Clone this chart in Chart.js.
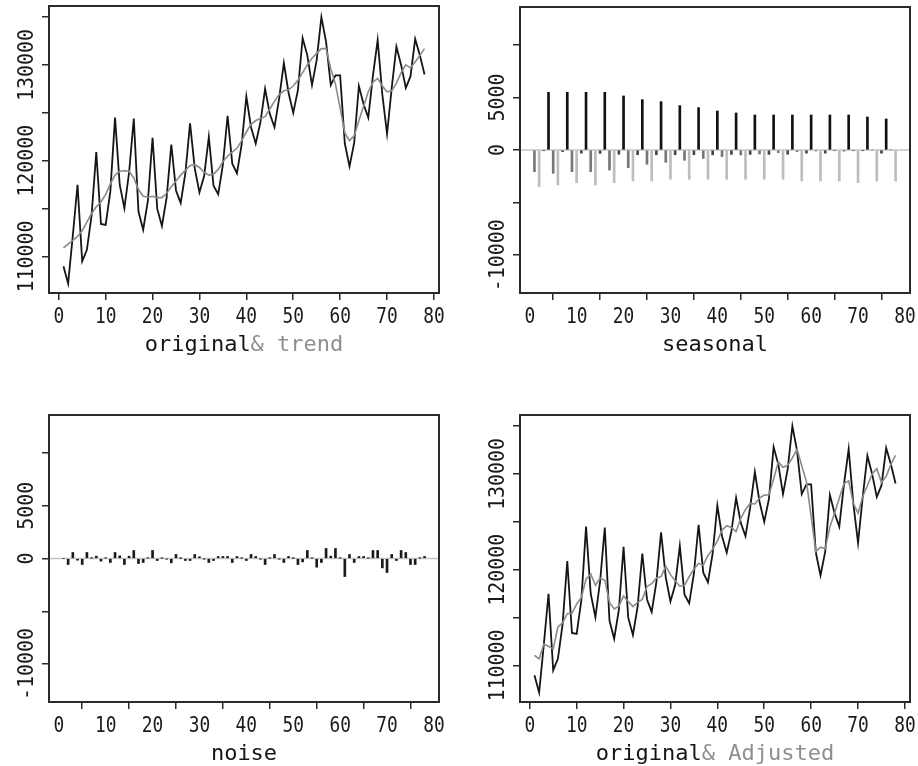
<!DOCTYPE html>
<html>
<head>
<meta charset="utf-8">
<script src="https://cdn.jsdelivr.net/npm/chart.js@4"></script>
<style>
  html, body { margin: 0; padding: 0; background: #fff; }
  #wrap { position: relative; width: 918px; height: 766px; overflow: hidden; }
  .panel { position: absolute; width: 459px; height: 383px; }
</style>
</head>
<body>
<div id="wrap">
  <div class="panel" style="left:0;top:0"><canvas id="trendChart" width="459" height="383"></canvas></div>
  <div class="panel" style="left:459px;top:0"><canvas id="seasonChart" width="459" height="383"></canvas></div>
  <div class="panel" style="left:0;top:383px"><canvas id="noiseChart" width="459" height="383"></canvas></div>
  <div class="panel" style="left:459px;top:383px"><canvas id="adjChart" width="459" height="383"></canvas></div>
</div>
<script>
// **Time index (quarters 1..78)**
let periods = [];
for (let i = 1; i <= 78; i++) periods.push(i);

// **Original series**
let original = [
  109000, 107200, 112200, 117500, 109500, 110700, 114300, 120900, 113400, 113300,
  116800, 124500, 117500, 115050, 118800, 124400, 114700, 112800, 115800, 122400,
  115000, 113200, 116150, 121700, 116900, 115600, 118700, 123900, 119200, 116700,
  118400, 122500, 117400, 116500, 119600, 124700, 119700, 118700, 121700, 126700,
  123500, 121800, 124000, 127500, 124900, 123500, 126500, 130200, 127100, 125000,
  127400, 132800, 131000, 127900, 130500, 135000, 132400, 127900, 128900, 128900,
  121800, 119400, 121900, 127800, 125900, 124500, 128900, 132600, 126900, 122800,
  127600, 131900, 130000, 127600, 128800, 132700, 131000, 129000
];

// **Trend component**
let trend = [
  110900, 111300, 111700, 112100, 112700, 113600, 114500, 115200, 115700, 116500,
  117600, 118500, 118900, 118950, 118900, 118200, 117000, 116300, 116200, 116300,
  116150, 116150, 116600, 117300, 117900, 118500, 119000, 119500, 119600, 119300,
  118800, 118500, 118600, 119100, 119900, 120500, 120900, 121300, 122100, 123000,
  123800, 124200, 124400, 124600, 125400, 126200, 126900, 127300, 127400, 127800,
  128400, 129200, 130000, 130700, 131200, 131700, 131700, 129600, 128000, 125500,
  122900, 122100, 122600, 124200, 125700, 127200, 128200, 128600, 127800, 127200,
  127300, 128100, 129200, 130000, 129700, 130300, 131000, 131700
];

// **Seasonal component**
let seasonal = [
  -2060, -3490, -50, 5490, -2220, -3330, -150, 5490, -2060, -3110,
  -300, 5490, -2060, -3330, -320, 5490, -1900, -3110, -400, 5140,
  -1680, -2950, -450, 4790, -1360, -2950, -450, 4600, -1170, -2790,
  -450, 4220, -980, -2790, -450, 4030, -800, -2790, -450, 3710,
  -630, -2790, -420, 3520, -475, -2790, -420, 3330, -380, -2790,
  -420, 3330, -250, -2790, -400, 3330, -160, -2950, -300, 3330,
  -100, -2950, -300, 3330, -30, -2950, -100, 3330, -30, -3110,
  -50, 3140, 0, -2950, -300, 2950, 0, -2950
];

// **Noise component**
let noise = [
  0, -570, 570, -160, -570, 570, 30, 220, -250, 40,
  -380, 570, 250, -570, 220, 760, -475, -380, 40, 760,
  -190, 30, -40, -410, 380, 20, -190, -190, 380, 160,
  -30, -380, -190, 190, 190, 190, -380, 190, 30, -190,
  380, 190, -40, -570, 30, 380, -40, -380, 190, 20,
  -570, -320, 760, 30, -820, -380, 950, 220, 950, 40,
  -1710, 380, -380, 190, 190, 30, 760, 760, -890, -1330,
  380, -190, 760, 570, -570, -570, 30, 190
];

// **Seasonally adjusted = original minus seasonal**
let adjusted = original.map((v, i) => v - seasonal[i]);

// **Axis ticks and labels**
let xTicks = [0, 10, 20, 30, 40, 50, 60, 70, 80];
let levelTicks = [110000, 115000, 120000, 125000, 130000, 135000];
let levelLabels = ["110000", "", "120000", "", "130000", ""];
let compTicks = [-10000, -5000, 0, 5000, 10000];
let compLabels = ["-10000", "", "0", "5000", ""];

let quarterColors = ["#777777", "#bdbdbd", "#444444", "#111111"];

function pts(values) {
  return periods.map((x, i) => ({ x: x, y: values[i] }));
}

// **Draw condensed text like the R device font**
function drawText(ctx, text, x, y, rot, sx, color) {
  ctx.save();
  ctx.translate(x, y);
  if (rot) ctx.rotate(rot);
  ctx.scale(sx, 1);
  ctx.font = "21px 'DejaVu Sans Mono'";
  ctx.fillStyle = color;
  ctx.textAlign = "center";
  ctx.textBaseline = "alphabetic";
  ctx.fillText(text, 0, 0);
  ctx.restore();
}

// **Box, zero line, tick labels and titles**
const rFrame = {
  id: "rFrame",
  beforeDatasetsDraw(chart, args, opts) {
    if (!opts.zeroLine) return;
    let ctx = chart.ctx, a = chart.chartArea;
    let y0 = chart.scales.y.getPixelForValue(0);
    ctx.save();
    ctx.strokeStyle = "#c4c4c4";
    ctx.lineWidth = 1.5;
    ctx.beginPath();
    ctx.moveTo(a.left, y0);
    ctx.lineTo(a.right, y0);
    ctx.stroke();
    ctx.restore();
  },
  afterDraw(chart, args, opts) {
    let ctx = chart.ctx, a = chart.chartArea;
    let xs = chart.scales.x, ys = chart.scales.y;
    ctx.save();
    ctx.strokeStyle = "#2a2a2a";
    ctx.lineWidth = 2;
    ctx.strokeRect(a.left, a.top, a.right - a.left, a.bottom - a.top);
    ctx.restore();

    xTicks.forEach(v => drawText(ctx, String(v), xs.getPixelForValue(v), a.bottom + 30, 0, 0.85, "#1a1a1a"));
    opts.yTicks.forEach((v, i) => {
      if (opts.yLabels[i]) drawText(ctx, opts.yLabels[i], a.left - 16, ys.getPixelForValue(v), -Math.PI / 2, 0.95, "#1a1a1a");
    });

    // title, in black and grey parts
    ctx.save();
    ctx.font = "22px 'DejaVu Sans Mono'";
    ctx.textBaseline = "alphabetic";
    ctx.textAlign = "left";
    let total = opts.title.reduce((s, p) => s + ctx.measureText(p[0]).width, 0);
    let tx = (a.left + a.right) / 2 - total / 2;
    opts.title.forEach(p => {
      ctx.fillStyle = p[1];
      ctx.fillText(p[0], tx, a.bottom + 58);
      tx += ctx.measureText(p[0]).width;
    });
    ctx.restore();
  }
};

function axes(yMin, yMax, yTicks, yWidth, xHeight) {
  let grid = { drawOnChartArea: false, drawTicks: true, tickLength: 7, color: "#2a2a2a", lineWidth: 1.5 };
  return {
    x: {
      type: "linear", min: -2.08, max: 81.08, offset: false,
      afterBuildTicks: s => { s.ticks = xTicks.map(v => ({ value: v })); },
      afterFit: s => { s.height = xHeight; },
      ticks: { display: false },
      grid: grid,
      border: { display: false }
    },
    y: {
      type: "linear", min: yMin, max: yMax,
      afterBuildTicks: s => { s.ticks = yTicks.map(v => ({ value: v })); },
      afterFit: s => { s.width = yWidth; },
      ticks: { display: false },
      grid: grid,
      border: { display: false }
    }
  };
}

function baseOptions(pad, scales, frame) {
  return {
    responsive: false,
    animation: false,
    layout: { padding: pad },
    scales: scales,
    plugins: { legend: { display: false }, tooltip: { enabled: false }, rFrame: frame }
  };
}

function lineSet(values, color, width, order) {
  return { type: "line", data: pts(values), borderColor: color, borderWidth: width, pointRadius: 0, tension: 0, order: order };
}

function setup() {
  Chart.register(rFrame);

  new Chart(document.getElementById("trendChart"), {
    type: "line",
    data: { datasets: [lineSet(trend, "#8a8a8a", 1.6, 0), lineSet(original, "#151515", 1.8, 1)] },
    options: baseOptions({ left: 0, top: 6, right: 20, bottom: 0 },
      axes(106200, 136150, levelTicks, 49, 90),
      { yTicks: levelTicks, yLabels: levelLabels, title: [["original", "#151515"], ["& trend", "#8f8f8f"]] })
  });

  new Chart(document.getElementById("seasonChart"), {
    type: "bar",
    data: { datasets: [{
      data: pts(seasonal), barThickness: 2,
      backgroundColor: c => quarterColors[c.dataIndex % 4]
    }] },
    options: baseOptions({ left: 0, top: 7, right: 8, bottom: 0 },
      axes(-13600, 13600, compTicks, 61, 90),
      { zeroLine: true, yTicks: compTicks, yLabels: compLabels, title: [["seasonal", "#151515"]] })
  });

  new Chart(document.getElementById("noiseChart"), {
    type: "bar",
    data: { datasets: [{ data: pts(noise), barThickness: 2, backgroundColor: "#1a1a1a" }] },
    options: baseOptions({ left: 0, top: 32, right: 20, bottom: 0 },
      axes(-13600, 13600, compTicks, 49, 64),
      { zeroLine: true, yTicks: compTicks, yLabels: compLabels, title: [["noise", "#151515"]] })
  });

  new Chart(document.getElementById("adjChart"), {
    type: "line",
    data: { datasets: [lineSet(adjusted, "#8a8a8a", 1.6, 0), lineSet(original, "#151515", 1.8, 1)] },
    options: baseOptions({ left: 0, top: 32, right: 8, bottom: 0 },
      axes(106200, 136150, levelTicks, 61, 64),
      { yTicks: levelTicks, yLabels: levelLabels, title: [["original", "#151515"], ["& Adjusted", "#8f8f8f"]] })
  });
}

window.addEventListener("DOMContentLoaded", setup);
</script>
</body>
</html>
